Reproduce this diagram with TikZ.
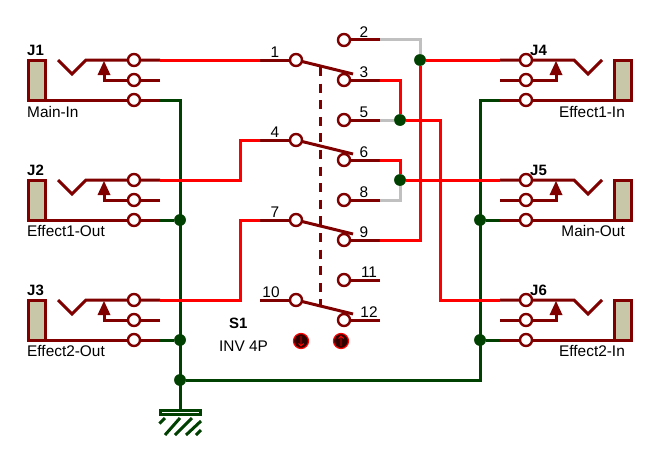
\documentclass[tikz,border=0pt]{standalone}
\usepackage{fontspec}
\setmainfont{Liberation Sans}
\definecolor{dred}{HTML}{800000}
\definecolor{wred}{HTML}{FF0000}
\definecolor{wgreen}{HTML}{004000}
\definecolor{wgray}{HTML}{C0C0C0}
\definecolor{body}{HTML}{C8C8A8}
\definecolor{ledfill}{HTML}{300000}
\tikzset{
  pin/.style={circle,draw=dred,fill=white,line width=2.4pt,minimum size=12pt,inner sep=0pt,outer sep=0pt},
  junc/.style={circle,fill=wgreen,minimum size=11.5pt,inner sep=0pt,outer sep=0pt},
  led/.style={circle,draw=wred,fill=ledfill,line width=1.2pt,minimum size=15pt,inner sep=0pt,outer sep=0pt},
  dw/.style={draw=dred,line width=3pt},
  rw/.style={draw=wred,line width=3pt},
  gw/.style={draw=wgreen,line width=3pt},
  yw/.style={draw=wgray,line width=3pt},
  lab/.style={inner sep=0pt,font=\fontsize{15.4}{15.4}\selectfont},
  blab/.style={inner sep=0pt,font=\fontsize{15}{15}\selectfont\bfseries},
}
% jack: name, top y, direction (+1 left-hand jack, -1 right-hand jack mirrored)
\newcommand{\jack}[3]{%
  \pgfmathsetmacro{\ya}{#2}\pgfmathsetmacro{\yb}{#2+20}\pgfmathsetmacro{\yc}{#2+40}%
  \pgfmathsetmacro{\xT}{#3>0?58:602}%
  \pgfmathsetmacro{\xV}{#3>0?72:588}\pgfmathsetmacro{\xK}{#3>0?86:574}%
  \pgfmathsetmacro{\xF}{#3>0?104:556}\pgfmathsetmacro{\xP}{#3>0?134:526}%
  \pgfmathsetmacro{\xE}{#3>0?160:500}\pgfmathsetmacro{\xL}{#3>0?28.5:631.5}\pgfmathsetmacro{\xR}{#3>0?45.5:614.5}%
  \pgfmathsetmacro{\xFl}{\xF-6.5}\pgfmathsetmacro{\xFr}{\xF+6.5}%
  \pgfmathsetmacro{\yT}{#2+14}\pgfmathsetmacro{\yN}{#2+1}%
  \coordinate (#1t) at (\xE,\ya);\coordinate (#1s) at (\xE,\yb);\coordinate (#1r) at (\xE,\yc);%
  \coordinate (#1f) at (\xF,\yb);\coordinate (#1k) at (\xK,\ya);\coordinate (#1v) at (\xV,\yT);\coordinate (#1e) at (\xT,\ya);%
  \coordinate (#1h) at (\xF,\yT);\coordinate (#1b) at (\xR,\yc);%
  \path[fill=body,draw=dred,line width=3pt] (\xL,\ya) rectangle (\xR,\yc);%
  \draw[dw] (#1t) -- (#1k) -- (#1v) -- (#1e);%
  \draw[dw] (#1s) -- (#1f) -- (#1h);%
  \draw[dw] (#1r) -- (#1b);%
  \fill[dred] (\xF,\yN) -- (\xFl,\yT+1) -- (\xFr,\yT+1) -- cycle;%
  \node[pin] (#1pt) at (\xP,\ya) {};%
  \node[pin] (#1ps) at (\xP,\yb) {};%
  \node[pin] (#1pr) at (\xP,\yc) {};%
}
\begin{document}
\begin{tikzpicture}[x=1pt,y=-1pt]
\useasboundingbox (0,0) rectangle (660,460);
\fill[white] (0,0) rectangle (660,460);

% wire bends
\coordinate (c1a) at (260,60);
\coordinate (c2a) at (380,40);   \coordinate (c2b) at (420,40);
\coordinate (c3a) at (380,80);   \coordinate (c3b) at (400,80);
\coordinate (c4a) at (260,140);  \coordinate (c4b) at (240,140); \coordinate (c4c) at (240,180);
\coordinate (c5a) at (380,120);
\coordinate (c6a) at (380,160);  \coordinate (c6b) at (400,160);
\coordinate (c7a) at (260,220);  \coordinate (c7b) at (240,220); \coordinate (c7c) at (240,300);
\coordinate (c8a) at (380,200);  \coordinate (c8b) at (400,200);
\coordinate (c9a) at (380,240);  \coordinate (c9b) at (420,240);
\coordinate (c10a) at (260,300);
\coordinate (c11a) at (380,280);
\coordinate (c12a) at (380,320);
\coordinate (x1) at (440,120);   \coordinate (x2) at (440,300);
\coordinate (g1) at (180,100);   \coordinate (g2) at (480,100);  \coordinate (g3) at (480,380);
\coordinate (gnd) at (180,410);

% junctions
\node[junc] (ja) at (420,60) {};
\node[junc] (jb) at (400,120) {};
\node[junc] (jc) at (400,180) {};
\node[junc] (jd) at (180,220) {};
\node[junc] (je) at (180,340) {};
\node[junc] (jf) at (180,380) {};
\node[junc] (jg) at (480,220) {};
\node[junc] (jh) at (480,340) {};

% jacks (their end coordinates are used by the wires)
\jack{Ja}{60}{1}
\jack{Jb}{180}{1}
\jack{Jc}{300}{1}
\jack{Jd}{60}{-1}
\jack{Je}{180}{-1}
\jack{Jf}{300}{-1}

% switch pins
\node[pin] (p1) at (296,60) {};
\node[pin] (p2) at (344,40) {};
\node[pin] (p3) at (344,80) {};
\node[pin] (p4) at (296,140) {};
\node[pin] (p5) at (344,120) {};
\node[pin] (p6) at (344,160) {};
\node[pin] (p7) at (296,220) {};
\node[pin] (p8) at (344,200) {};
\node[pin] (p9) at (344,240) {};
\node[pin] (p10) at (296,300) {};
\node[pin] (p11) at (344,280) {};
\node[pin] (p12) at (344,320) {};

% coloured wires
\draw[gw] (Jar) -- (g1) -- (gnd);
\draw[gw] (Jbr) -- (jd);
\draw[gw] (Jcr) -- (je);
\draw[gw] (jf) -- (g3) -- (g2) -- (Jdr);
\draw[gw] (Jer) -- (jg);
\draw[gw] (Jfr) -- (jh);
\draw[yw] (c2a) -- (c2b) -- (ja);
\draw[yw] (c5a) -- (jb);
\draw[yw] (c8a) -- (c8b) -- (jc);
\draw[rw] (Jat) -- (c1a);
\draw[rw] (c3a) -- (c3b) -- (jb);
\draw[rw] (c6a) -- (c6b) -- (jc);
\draw[rw] (c9a) -- (c9b) -- (ja);
\draw[rw] (ja) -- (Jdt);
\draw[rw] (jb) -- (x1) -- (x2) -- (Jft);
\draw[rw] (jc) -- (Jet);
\draw[rw] (Jbt) -- (c4c) -- (c4b) -- (c4a);
\draw[rw] (Jct) -- (c7c) -- (c7b) -- (c7a);

% dark pin stubs
\draw[dw] (c1a) -- (p1);
\draw[dw] (c2a) -- (p2);
\draw[dw] (c3a) -- (p3);
\draw[dw] (c4a) -- (p4);
\draw[dw] (c5a) -- (p5);
\draw[dw] (c6a) -- (p6);
\draw[dw] (c7a) -- (p7);
\draw[dw] (c8a) -- (p8);
\draw[dw] (c9a) -- (p9);
\draw[dw] (c10a) -- (p10);
\draw[dw] (c11a) -- (p11);
\draw[dw] (c12a) -- (p12);

% levers
\coordinate (l1) at (353,74);
\coordinate (l4) at (353,154);
\coordinate (l7) at (353,234);
\coordinate (l10) at (353,314);
\draw[dw] (p1) -- (l1);
\draw[dw] (p4) -- (l4);
\draw[dw] (p7) -- (l7);
\draw[dw] (p10) -- (l10);
\coordinate (m1) at (320,67);
\coordinate (m2) at (320,306);
\draw[dw,dash pattern=on 9pt off 7.6pt] (m1) -- (m2);

% re-draw junctions on top
\node[junc] at (jb) {};
\node[junc] at (jc) {};
\node[junc] at (ja) {};
\node[junc] at (jd) {};
\node[junc] at (je) {};
\node[junc] at (jf) {};
\node[junc] at (jg) {};
\node[junc] at (jh) {};

% ground
\draw[draw=wgreen,fill=white,line width=2.5pt] (160.5,410.5) rectangle (200.5,414.5);
\foreach \a/\b/\c/\d in {165/418/159.5/423.5, 180/418/165/435, 192/418/175/435, 201/421/186/435, 201/430/196/435}
  \draw[gw] (\a,\b) -- (\c,\d);

% indicators
\node[led] (ld) at (301,341) {};
\node[led] (lu) at (341,341) {};
\draw[wred,line width=0.8pt] (301,336) -- (301,346) (298.5,343.5) -- (301,346) -- (303.5,343.5);
\draw[wred,line width=0.8pt] (341,346) -- (341,336) (338.5,338.5) -- (341,336) -- (343.5,338.5);

% labels
\node[blab,anchor=west] (tJ1) at (27,50) {J1};
\node[blab,anchor=west] (tJ2) at (27,170) {J2};
\node[blab,anchor=west] (tJ3) at (27,290) {J3};
\node[blab,anchor=west] (tJ4) at (530,50) {J4};
\node[blab,anchor=west] (tJ5) at (530,170) {J5};
\node[blab,anchor=west] (tJ6) at (530,290) {J6};
\node[lab,anchor=west] (n1) at (27,112) {Main-In};
\node[lab,anchor=west] (n2) at (27,231) {Effect1-Out};
\node[lab,anchor=west] (n3) at (27,351) {Effect2-Out};
\node[lab,anchor=east] (n4) at (625,112) {Effect1-In};
\node[lab,anchor=east] (n5) at (625,231) {Main-Out};
\node[lab,anchor=east] (n6) at (625,351) {Effect2-In};
\node[blab,anchor=west] (s1) at (229,323) {S1};
\node[lab,anchor=west] (s2) at (219,346) {INV 4P};
\node[lab] (t1) at (275,52) {1};
\node[lab] (t2) at (364,32) {2};
\node[lab] (t3) at (364,72) {3};
\node[lab] (t4) at (275,132) {4};
\node[lab] (t5) at (364,112) {5};
\node[lab] (t6) at (364,152) {6};
\node[lab] (t7) at (275,212) {7};
\node[lab] (t8) at (364,192) {8};
\node[lab] (t9) at (364,232) {9};
\node[lab] (t10) at (271,292) {10};
\node[lab] (t11) at (369,272) {11};
\node[lab] (t12) at (369,312) {12};
\end{tikzpicture}
\end{document}
